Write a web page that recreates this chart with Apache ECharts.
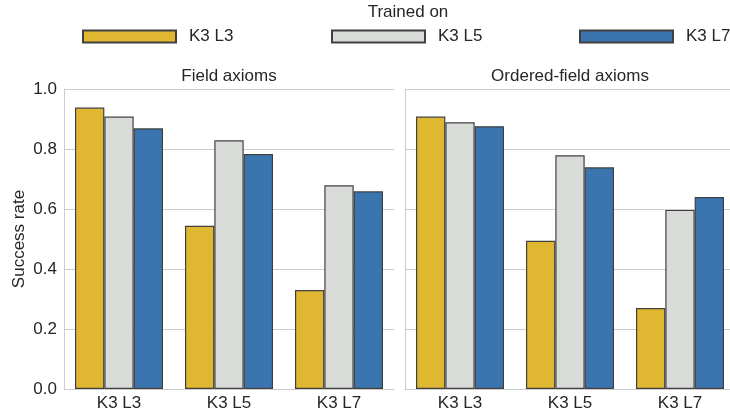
<!DOCTYPE html>
<html><head><meta charset="utf-8">
<script src="https://cdn.jsdelivr.net/npm/echarts@6/dist/echarts.min.js"></script>
<style>html,body{margin:0;padding:0;background:#fff;overflow:hidden}#c{width:740px;height:413px}</style>
</head><body><div id="c"></div>
<script>
const categories = ['K3 L3', 'K3 L5', 'K3 L7'];
const trainedOn = ['K3 L3', 'K3 L5', 'K3 L7'];
const panelTitles = ['Field axioms', 'Ordered-field axioms'];
const yTicks = [0.0, 0.2, 0.4, 0.6, 0.8, 1.0];
// Field axioms
const fieldL3 = [0.938, 0.544, 0.330];
const fieldL5 = [0.908, 0.829, 0.679];
const fieldL7 = [0.869, 0.783, 0.659];
// Ordered-field axioms
const orderedL3 = [0.908, 0.494, 0.270];
const orderedL5 = [0.889, 0.779, 0.597];
const orderedL7 = [0.876, 0.739, 0.640];

const colors = ['#E0B731', '#D9DBD8', '#3B75AF'];
const FONT = 'Liberation Sans, Arial, sans-serif';
const TXT = '#262626';
const GRIDC = '#cccccc';

const chart = echarts.init(document.getElementById('c'), null, {renderer: 'canvas'});
const grids = [
  {left: 64, top: 89, width: 330, height: 300},
  {left: 405, top: 89, width: 330, height: 300}
];
function xAxis(i) {
  return {
    type: 'category', gridIndex: i, data: categories,
    axisLine: {show: true, lineStyle: {color: GRIDC, width: 1}},
    axisTick: {show: false},
    axisLabel: {color: TXT, fontSize: 17, fontFamily: FONT, margin: 6},
    splitLine: {show: false}
  };
}
function yAxis(i) {
  return {
    type: 'value', gridIndex: i, min: 0, max: 1, interval: 0.2,
    name: i === 0 ? 'Success rate' : '', nameLocation: 'middle', nameGap: 36,
    nameTextStyle: {color: TXT, fontSize: 17, fontFamily: FONT},
    axisLine: {show: true, lineStyle: {color: GRIDC, width: 1}},
    axisTick: {show: false},
    axisLabel: {show: i === 0, color: TXT, fontSize: 17, fontFamily: FONT, margin: 7,
      formatter: v => yTicks.includes(Math.round(v * 10) / 10) ? v.toFixed(1) : ''},
    splitLine: {show: true, lineStyle: {color: GRIDC, width: 1}}
  };
}
const data = [[fieldL3, fieldL5, fieldL7], [orderedL3, orderedL5, orderedL7]];
const series = [];
for (let g = 0; g < 2; g++) {
  for (let s = 0; s < 3; s++) {
    series.push({
      type: 'bar', name: trainedOn[s], xAxisIndex: g, yAxisIndex: g,
      data: data[g][s], barGap: '0%', barCategoryGap: '20%',
      itemStyle: {color: colors[s], borderColor: '#404040', borderWidth: 1.2},
      emphasis: {disabled: true}, animation: false
    });
  }
}
const legendLefts = [82, 331, 579];
const legends = trainedOn.map((n, i) => ({
  data: [n], left: legendLefts[i], top: 28, padding: 0, itemWidth: 93, itemHeight: 12,
  icon: 'rect', selectedMode: false,
  textStyle: {color: TXT, fontSize: 17, fontFamily: FONT, padding: [0, 0, 0, 8]}
}));
chart.setOption({
  backgroundColor: '#ffffff',
  animation: false,
  title: [
    {text: 'Trained on', left: 408, top: 4, padding: 0, textAlign: 'center',
      textStyle: {color: TXT, fontSize: 17, fontWeight: 'normal', fontFamily: FONT}},
    {text: panelTitles[0], left: 229, top: 68, padding: 0, textAlign: 'center',
      textStyle: {color: TXT, fontSize: 17, fontWeight: 'normal', fontFamily: FONT}},
    {text: panelTitles[1], left: 570, top: 68, padding: 0, textAlign: 'center',
      textStyle: {color: TXT, fontSize: 17, fontWeight: 'normal', fontFamily: FONT}}
  ],
  legend: legends,
  grid: grids,
  xAxis: [xAxis(0), xAxis(1)],
  yAxis: [yAxis(0), yAxis(1)],
  series: series
});
</script></body></html>
